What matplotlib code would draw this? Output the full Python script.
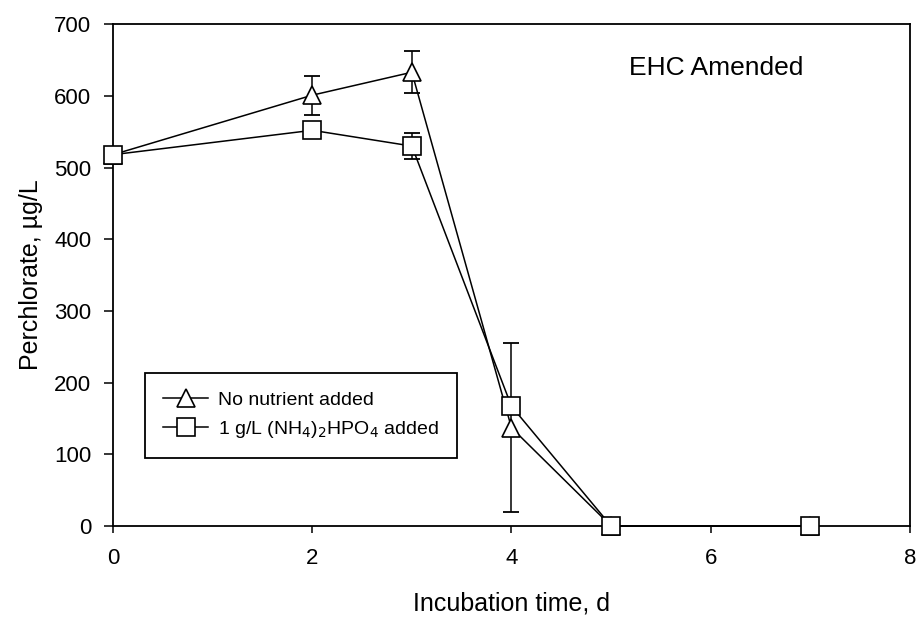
import numpy as np
import matplotlib
matplotlib.use("Agg")
import matplotlib.pyplot as plt

plt.rcParams["font.family"] = ["Liberation Sans", "DejaVu Sans"]

# incubation times (days) and perchlorate (ug/L)
days = [0, 2, 3, 4, 5, 7]
no_nutrient = [518, 601, 633, 137, 0, 0]
no_nutrient_err = [0, 27, 29, 118, 0, 0]
dap_added = [518, 552, 530, 167, 0, 0]
dap_added_err = [0, 0, 18, 0, 0, 0]

fig = plt.figure(figsize=(9.21, 6.21), dpi=100)
ax = fig.add_axes([0.1227, 0.153, 0.8653, 0.808])

def draw_series(y, err, marker, label, z):
    y = np.asarray(y, dtype=float)
    err = np.asarray(err, dtype=float)
    ax.plot(days, y, color="black", lw=1.1, marker=marker, ms=13,
            mfc="white", mec="black", mew=1.2, label=label, zorder=z,
            clip_on=False)
    keep = err > 0
    ax.errorbar(np.asarray(days)[keep], y[keep], yerr=err[keep], fmt="none",
                ecolor="black", elinewidth=1.1, capsize=5.5, capthick=1.3,
                zorder=z - 1)

draw_series(no_nutrient, no_nutrient_err, "^", "No nutrient added", 3)
draw_series(dap_added, dap_added_err, "s",
            r"1 g/L (NH$_4$)$_2$HPO$_4$ added", 5)

ax.set_xlim(0, 8)
ax.set_ylim(0, 700)
ax.set_xticks(np.arange(0, 9, 2))
ax.set_yticks(np.arange(0, 701, 100))
ax.tick_params(axis="y", direction="out", length=6.5, width=1.1,
               labelsize=16, pad=9)
ax.tick_params(axis="x", direction="out", length=5, width=1.1,
               labelsize=16, pad=11)
for s in ax.spines.values():
    s.set_linewidth(1.3)

ax.set_xlabel("Incubation time, d", fontsize=18, labelpad=16)
ax.set_ylabel("Perchlorate, \u00b5g/L", fontsize=18, labelpad=8)

ax.text(6.05, 639, "EHC Amended", fontsize=19, ha="center", va="center")

leg = ax.legend(loc="lower left", bbox_to_anchor=(0.04, 0.135),
                fontsize=14, fancybox=False, edgecolor="black",
                framealpha=1, handlelength=2.3, borderpad=0.95,
                labelspacing=0.5, handletextpad=0.5, borderaxespad=0,
                markerscale=0.95)
leg.get_frame().set_linewidth(1.3)

fig.savefig("out.png", dpi=100)
